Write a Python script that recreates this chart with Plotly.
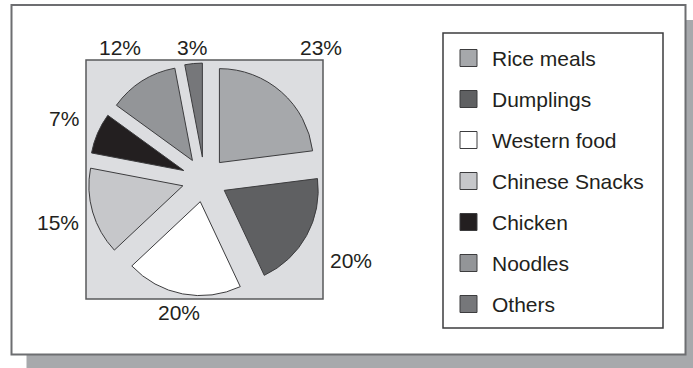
import math
import plotly.graph_objects as go

# ---------------- data ----------------
labels = ["Rice meals", "Dumplings", "Western food", "Chinese Snacks",
          "Chicken", "Noodles", "Others"]
values = [23, 20, 20, 15, 7, 12, 3]
colors = ["#a6a8ab", "#5f6062", "#ffffff", "#c6c7ca",
          "#231f20", "#939598", "#76777a"]

# ---------------- layout constants (pixels) ----------------
W, H = 693, 368
FONT = "Liberation Sans, Arial, Helvetica, sans-serif"
FS = 21
TXT = "#231f20"

def X(px):
    return px / W

def Y(py):
    return 1 - py / H

outer = (11.5, 5, 685.5, 354.5)
shadow_off = 15
square = (86, 60, 323, 299)
legend_box = (443, 33, 663, 328)
pull = 0.24
cx = (square[0] + square[2]) / 2
cy = (square[1] + square[3]) / 2
pie_box = 233  # pie domain size in px

fig = go.Figure()
fig.add_trace(go.Pie(
    labels=labels, values=values, sort=False, direction="clockwise",
    rotation=0, pull=[pull] * len(values),
    marker=dict(colors=colors, line=dict(color="#3c3c3e", width=1)),
    textinfo="none", showlegend=False,
    domain=dict(x=[X(cx - pie_box / 2), X(cx + pie_box / 2)],
                y=[Y(cy + pie_box / 2), Y(cy - pie_box / 2)]),
))

shapes = []
# shadow
shapes.append(dict(type="rect", xref="paper", yref="paper", layer="below",
                   x0=X(outer[0] + shadow_off), x1=X(outer[2] + shadow_off),
                   y0=Y(outer[3] + shadow_off), y1=Y(outer[1] + shadow_off),
                   fillcolor="#a7a9ac", line=dict(width=0)))
# outer white box
shapes.append(dict(type="rect", xref="paper", yref="paper", layer="below",
                   x0=X(outer[0]), x1=X(outer[2]), y0=Y(outer[3]), y1=Y(outer[1]),
                   fillcolor="#ffffff", line=dict(color="#6d6e71", width=2)))
# gray plot square
shapes.append(dict(type="rect", xref="paper", yref="paper", layer="below",
                   x0=X(square[0]), x1=X(square[2]), y0=Y(square[3]), y1=Y(square[1]),
                   fillcolor="#dcdde0", line=dict(color="#58595b", width=1.5)))
# legend box
shapes.append(dict(type="rect", xref="paper", yref="paper", layer="below",
                   x0=X(legend_box[0]), x1=X(legend_box[2]),
                   y0=Y(legend_box[3]), y1=Y(legend_box[1]),
                   fillcolor="#ffffff", line=dict(color="#3c3c3e", width=1.5)))

annotations = []
# legend entries
leg_y0, leg_dy = 58, 41
sw = 17
for i, (lab, col) in enumerate(zip(labels, colors)):
    yy = leg_y0 + i * leg_dy
    shapes.append(dict(type="rect", xref="paper", yref="paper",
                       x0=X(460), x1=X(460 + sw), y0=Y(yy + sw / 2), y1=Y(yy - sw / 2),
                       fillcolor=col, line=dict(color="#3c3c3e", width=1)))
    annotations.append(dict(xref="paper", yref="paper", x=X(490), y=Y(yy),
                            xanchor="left", yanchor="middle", showarrow=False,
                            text=lab, font=dict(family=FONT, size=FS, color=TXT)))

# percentage labels, placed along each slice's bisector just outside the square
cw = {"%": 0.889}
def text_w(s):
    return sum(cw.get(c, 0.556) for c in s) * FS

half_side_x = (square[2] - square[0]) / 2
half_side_y = (square[3] - square[1]) / 2
gap_x, gap_y, half_h = 7, 5, 8
total = sum(values)
cum = 0
for v in values:
    mid = (cum + v / 2) / total * 2 * math.pi
    cum += v
    ux, uy = math.sin(mid), -math.cos(mid)
    s = f"{round(v / total * 100)}%"
    hw = text_w(s) / 2
    cands = []
    if abs(ux) > 1e-6:
        cands.append((half_side_x + gap_x + hw) / abs(ux))
    if abs(uy) > 1e-6:
        cands.append((half_side_y + gap_y + half_h) / abs(uy))
    t = min(cands)
    annotations.append(dict(xref="paper", yref="paper",
                            x=X(cx + t * ux), y=Y(cy + t * uy),
                            xanchor="center", yanchor="middle", showarrow=False,
                            text=s, font=dict(family=FONT, size=FS, color=TXT)))

fig.update_layout(
    width=W, height=H, margin=dict(l=0, r=0, t=0, b=0),
    paper_bgcolor="#ffffff", plot_bgcolor="#ffffff",
    shapes=shapes, annotations=annotations, showlegend=False,
)
fig.write_html("out.html")
